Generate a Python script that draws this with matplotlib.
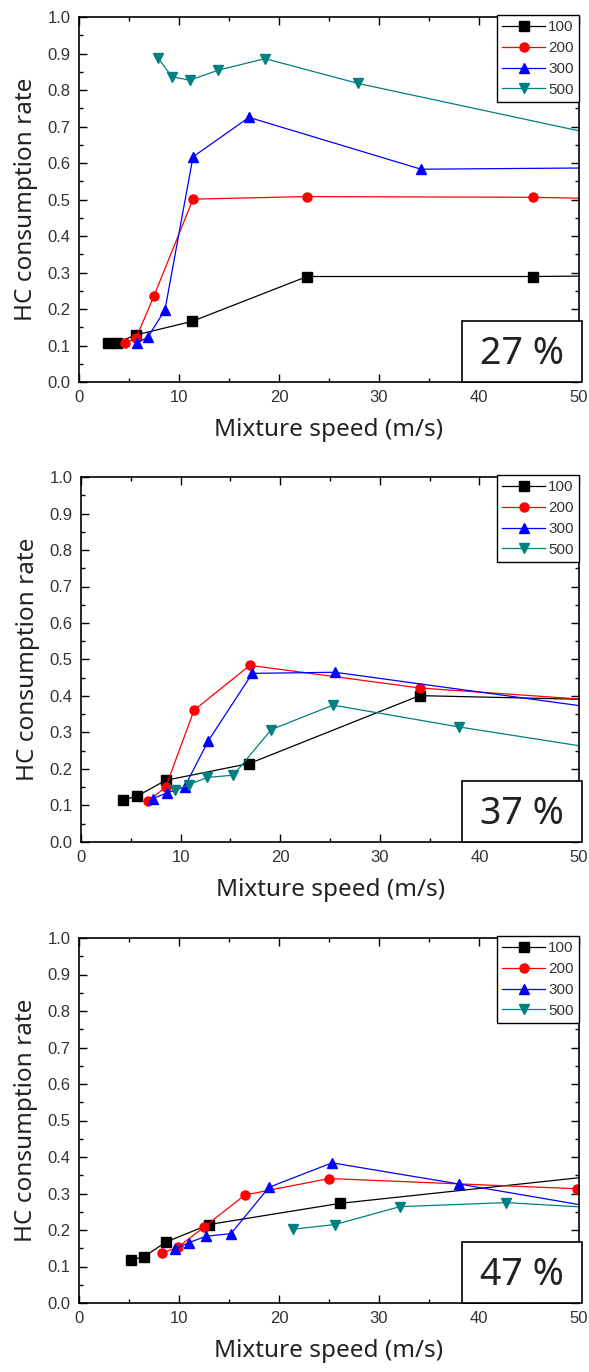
import matplotlib
matplotlib.use('Agg')
import matplotlib.pyplot as plt
from matplotlib.patches import Rectangle
from matplotlib.ticker import MultipleLocator

plt.rcParams['font.family'] = ['Liberation Sans', 'DejaVu Sans']

# 数据 (读自原图; 超出 x=50 的点只用来画出延伸到边框的线段)
series_labels = ['100', '200', '300', '500']
colors = ['black', '#ff0000', '#0000ff', '#008080']
markers = ['s', 'o', '^', 'v']
panel_tags = ['27 %', '37 %', '47 %']

# 27 %
p1_x100 = [2.9, 3.8, 5.7, 11.3, 22.8, 45.4, 91.0]
p1_y100 = [0.107, 0.108, 0.129, 0.166, 0.289, 0.289, 0.300]
p1_x200 = [4.6, 5.7, 7.5, 11.4, 22.8, 45.4, 51.0]
p1_y200 = [0.107, 0.120, 0.236, 0.501, 0.508, 0.506, 0.503]
p1_x300 = [5.8, 6.9, 8.6, 11.4, 17.0, 34.2, 68.0]
p1_y300 = [0.107, 0.123, 0.198, 0.617, 0.725, 0.583, 0.590]
p1_x500 = [7.9, 9.3, 11.1, 13.9, 18.6, 27.9, 55.8]
p1_y500 = [0.888, 0.836, 0.827, 0.854, 0.886, 0.818, 0.654]

# 37 %
p2_x100 = [4.2, 5.6, 8.5, 16.9, 34.0, 68.0]
p2_y100 = [0.116, 0.125, 0.169, 0.215, 0.401, 0.380]
p2_x200 = [6.7, 8.5, 11.35, 16.95, 34.0, 68.0]
p2_y200 = [0.112, 0.150, 0.361, 0.484, 0.422, 0.358]
p2_x300 = [7.2, 8.6, 10.4, 12.8, 17.2, 25.5, 51.0]
p2_y300 = [0.119, 0.134, 0.151, 0.278, 0.462, 0.465, 0.370]
p2_x500 = [9.45, 10.8, 12.7, 15.3, 19.1, 25.3, 38.0, 57.0]
p2_y500 = [0.142, 0.157, 0.177, 0.183, 0.308, 0.375, 0.315, 0.234]

# 47 %
p3_x100 = [5.2, 6.5, 8.7, 13.0, 26.1, 52.0]
p3_y100 = [0.118, 0.127, 0.167, 0.215, 0.273, 0.349]
p3_x200 = [8.3, 9.9, 12.5, 16.6, 25.0, 49.8]
p3_y200 = [0.137, 0.153, 0.208, 0.296, 0.341, 0.313]
p3_x300 = [9.6, 10.95, 12.7, 15.2, 19.0, 25.3, 38.0, 51.0]
p3_y300 = [0.148, 0.165, 0.183, 0.190, 0.317, 0.384, 0.326, 0.265]
p3_x500 = [21.35, 25.6, 32.1, 42.7, 51.0]
p3_y500 = [0.202, 0.215, 0.264, 0.275, 0.262]

panels = [
    [(p1_x100, p1_y100), (p1_x200, p1_y200), (p1_x300, p1_y300), (p1_x500, p1_y500)],
    [(p2_x100, p2_y100), (p2_x200, p2_y200), (p2_x300, p2_y300), (p2_x500, p2_y500)],
    [(p3_x100, p3_y100), (p3_x200, p3_y200), (p3_x300, p3_y300), (p3_x500, p3_y500)],
]

fig = plt.figure(figsize=(5.89, 13.72), dpi=100)

# 各子图位置 (像素 -> 比例)
W, H = 589, 1372
boxes = [(79, 17, 579, 382), (81, 477, 579, 842), (79, 938, 579, 1303)]

for k, (x0, y0, x1, y1) in enumerate(boxes):
    ax = fig.add_axes([x0 / W, 1 - y1 / H, (x1 - x0) / W, (y1 - y0) / H])
    for (xs, ys), lab, c, m in zip(panels[k], series_labels, colors, markers):
        ax.plot(xs, ys, color=c, marker=m, markersize=6.5, linewidth=0.9,
                label=lab, markeredgecolor=c)

    ax.set_xlim(0, 50)
    ax.set_ylim(0, 1.0)
    ax.xaxis.set_major_locator(MultipleLocator(10))
    ax.xaxis.set_minor_locator(MultipleLocator(5))
    ax.yaxis.set_major_locator(MultipleLocator(0.1))
    ax.yaxis.set_minor_locator(MultipleLocator(0.05))
    ax.yaxis.set_major_formatter(matplotlib.ticker.FormatStrFormatter('%.1f'))
    ax.tick_params(which='both', direction='in', top=True, right=True,
                   labelsize=12, labelcolor='#333333', width=1.0)
    ax.tick_params(which='major', length=6, pad=6)
    ax.tick_params(which='minor', length=3)
    for s in ax.spines.values():
        s.set_linewidth(1.2)

    ax.set_xlabel('Mixture speed (m/s)', fontsize=17.5, family=['Noto Sans', 'DejaVu Sans'],
                  labelpad=9, color='#222222')
    ax.set_ylabel('HC consumption rate', fontsize=17.5, family=['Noto Sans', 'DejaVu Sans'],
                  labelpad=7, color='#222222')

    leg = ax.legend(loc='upper right', bbox_to_anchor=(1.0, 1.006), borderaxespad=0,
                    fontsize=11, handlelength=2.8, handletextpad=0.2,
                    labelspacing=0.45, borderpad=0.35, fancybox=False,
                    framealpha=1, edgecolor='black')
    leg.get_frame().set_linewidth(1.0)
    for t in leg.get_texts():
        t.set_color('#333333')

    ax.add_patch(Rectangle((0.766, 0), 0.24, 0.166, transform=ax.transAxes,
                           facecolor='white', edgecolor='black', linewidth=1.2,
                           clip_on=False, zorder=5))
    ax.text(0.885, 0.078, panel_tags[k], transform=ax.transAxes, fontsize=27,
            ha='center', va='center', family=['Noto Sans', 'DejaVu Sans'],
            color='#222222', zorder=6)

fig.savefig('out.png', dpi=100)
